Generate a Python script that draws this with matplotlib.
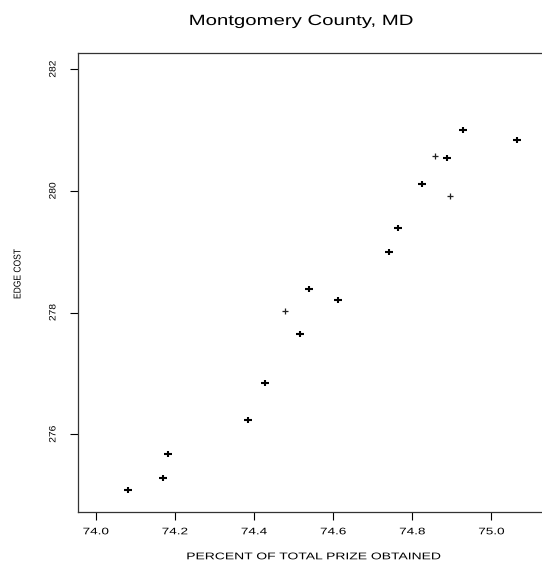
import matplotlib
matplotlib.use('Agg')
import matplotlib.pyplot as plt
from matplotlib.path import Path
from matplotlib.patheffects import AbstractPathEffect
from matplotlib.transforms import Affine2D

# points (bold crosses and the lighter ones)
bold_x = [74.929, 75.064, 74.887, 74.824, 74.764, 74.741, 74.538, 74.611,
          74.515, 74.428, 74.384, 74.182, 74.170, 74.082]
bold_y = [281.00, 280.83, 280.54, 280.12, 279.39, 278.99, 278.38, 278.20,
          277.64, 276.84, 276.23, 275.67, 275.28, 275.08]
thin_x = [74.858, 74.896, 74.479]
thin_y = [280.57, 279.91, 278.02]

xticks = [74.0, 74.2, 74.4, 74.6, 74.8, 75.0]
xtick_labels = ['74.0', '74.2', '74.4', '74.6', '74.8', '75.0']
yticks = [276, 278, 280, 282]
ytick_labels = ['276', '278', '280', '282']


class Stretch(AbstractPathEffect):
    # widen (or narrow) text along its writing direction, around its centre
    def __init__(self, sx=1.0):
        super().__init__()
        self.sx = sx

    def draw_path(self, renderer, gc, tpath, affine, rgbFace=None):
        ext = tpath.get_extents()
        cx = (ext.x0 + ext.x1) / 2
        t = Affine2D().translate(-cx, 0).scale(self.sx, 1).translate(cx, 0)
        renderer.draw_path(gc, tpath, t + affine, rgbFace)


plt.rcParams['font.family'] = ['Liberation Sans', 'DejaVu Sans']

# plus sign a little wider than tall
plus = Path([(-1.2, 0), (1.2, 0), (0, -1), (0, 1)],
            [Path.MOVETO, Path.LINETO, Path.MOVETO, Path.LINETO])

fig = plt.figure(figsize=(5.42, 5.62), dpi=100)
ax = fig.add_axes([78 / 542, 1 - 512 / 562, 472 / 542, 459.3 / 562])

ax.plot(bold_x, bold_y, linestyle='none', marker=plus, markersize=5.8,
        markeredgewidth=1.5, color='black')
ax.plot(thin_x, thin_y, linestyle='none', marker=plus, markersize=4.8,
        markeredgewidth=0.9, color='#222222')

ax.set_xlim(73.955, 75.148)
ax.set_ylim(274.723, 282.271)

ax.set_xticks(xticks)
ax.set_xticklabels(xtick_labels)
ax.set_yticks(yticks)
ax.set_yticklabels(ytick_labels)

for s in ax.spines.values():
    s.set_color('#333333')
    s.set_linewidth(0.9)

ax.tick_params(axis='x', length=5.8, width=0.8, pad=4.5, labelsize=6.85, colors='black')
ax.tick_params(axis='y', length=5.8, width=0.8, pad=9, labelsize=6.7, colors='black',
               labelrotation=90)
for lab in ax.get_xticklabels():
    lab.set_path_effects([Stretch(1.42)])
for lab in ax.get_yticklabels():
    lab.set_va('center')
    lab.set_path_effects([Stretch(1.1)])

fig.text(301.5 / 542, 1 - 25 / 562, 'Montgomery County, MD', ha='center',
         va='baseline', fontsize=10.7, path_effects=[Stretch(1.37)])
fig.text(313.3 / 542, 1 - 559.3 / 562, 'PERCENT OF TOTAL PRIZE OBTAINED',
         ha='center', va='baseline', fontsize=7, path_effects=[Stretch(1.43)])
fig.text(17.5 / 542, 1 - 274 / 562, 'EDGE COST', rotation=90, ha='center',
         va='center', fontsize=7.2, path_effects=[Stretch(0.85)])

fig.savefig('out.png', dpi=100)
